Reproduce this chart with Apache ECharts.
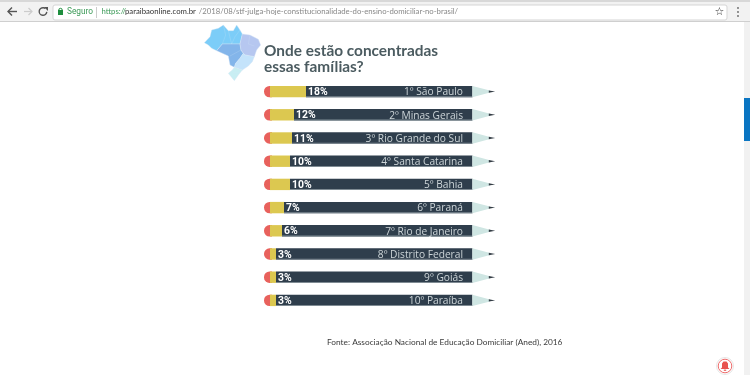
<!DOCTYPE html>
<html><head><meta charset="utf-8">
<style>html,body{margin:0;padding:0;background:#fff;overflow:hidden}#c{width:750px;height:375px;filter:blur(0.45px)}</style>
<script src="https://cdn.jsdelivr.net/npm/echarts@6/dist/echarts.min.js"></script>
</head><body><div id="c"></div>
<script>
const categories = ['1º São Paulo','2º Minas Gerais','3º Rio Grande do Sul','4º Santa Catarina','5º Bahia','6º Paraná','7º Rio de Janeiro','8º Distrito Federal','9º Goiás','10º Paraíba'];
const shares = [18,12,11,10,10,7,6,3,3,3];
const title = ['Onde estão concentradas','essas famílias?'];
const source = 'Fonte: Associação Nacional de Educação Domiciliar (Aned), 2016';
const url1 = 'https://', url2 = 'paraibaonline.com.br', url3 = '/2018/08/stf-julga-hoje-constitucionalidade-do-ensino-domiciliar-no-brasil/';

const m = pts => pts.map(p => [195 + p[0] / 3, 20 + p[1] / 3]);
const regions = [
  ['#7ccdf8', [[28,68],[45,50],[50,30],[70,25],[85,15],[100,32],[115,32],[125,15],[135,30],[142,42],[135,72],[82,72],[65,92],[50,85],[40,75]]],
  ['#83b5ea', [[82,72],[135,72],[138,90],[145,100],[135,115],[122,130],[118,142],[105,135],[100,108],[65,92]]],
  ['#b6c7f0', [[142,42],[165,45],[190,58],[197,75],[185,90],[178,110],[150,105],[145,100],[138,90],[135,72]]],
  ['#c4e3fb', [[145,100],[150,105],[178,110],[172,125],[160,138],[142,150],[118,142],[122,130],[135,115]]],
  ['#c8eef3', [[118,142],[142,150],[130,165],[118,182],[100,160],[112,150]]]
];
const stateLines = [
  [[85,15],[92,45],[82,72]], [[100,32],[110,72]], [[135,30],[120,50],[110,72]],
  [[165,45],[160,72],[178,78]], [[105,108],[138,90]], [[112,158],[136,158]]
];
const chrome = [
  {type:'rect',shape:{x:0,y:0,width:750,height:21},style:{fill:'#f2f2f2'}},
  {type:'rect',shape:{x:0,y:0,width:750,height:2},style:{fill:'#d8d8d8'}},
  {type:'rect',shape:{x:0,y:21,width:750,height:1},style:{fill:'#cfcfcf'}},
  {type:'rect',shape:{x:53,y:5,width:674,height:15,r:2},style:{fill:'#fff',stroke:'#d5d5d5',lineWidth:1}},
  {type:'polyline',shape:{points:[[17,11.5],[8,11.5]]},style:{stroke:'#555',lineWidth:1.4,fill:'none'}},
  {type:'polyline',shape:{points:[[12,7.5],[8,11.5],[12,15.5]]},style:{stroke:'#555',lineWidth:1.4,fill:'none'}},
  {type:'polyline',shape:{points:[[24,11.5],[32,11.5]]},style:{stroke:'#ccc',lineWidth:1.2,fill:'none'}},
  {type:'polyline',shape:{points:[[28.5,8],[32,11.5],[28.5,15]]},style:{stroke:'#ccc',lineWidth:1.2,fill:'none'}},
  {type:'arc',shape:{cx:43,cy:11.5,r:3.8,startAngle:0.1,endAngle:5.4},style:{stroke:'#555',lineWidth:1.4,fill:'none'}},
  {type:'polygon',shape:{points:[[44,7],[48,7],[48,11]]},style:{fill:'#555'}},
  {type:'rect',shape:{x:58,y:10,width:5,height:5},style:{fill:'#1e8e3e'}},
  {type:'arc',shape:{cx:60.5,cy:10,r:1.7,startAngle:Math.PI,endAngle:0},style:{stroke:'#1e8e3e',lineWidth:1,fill:'none'}},
  {type:'text',x:67,y:7.5,style:{text:'Seguro',font:'8.3px Roboto',fill:'#3c9a58'}},
  {type:'rect',shape:{x:96,y:7,width:1,height:11},style:{fill:'#ccc'}},
  {type:'text',x:101.5,y:7.5,style:{text:url1,font:'7.75px Lato',fill:'#3c9a58'}},
  {type:'text',x:125,y:7.5,style:{text:url2,font:'7.75px Lato',fill:'#333'}},
  {type:'text',x:198.7,y:7.5,style:{text:url3,font:'7.75px Lato',fill:'#888'}},
  {type:'text',x:714.5,y:6.5,style:{text:'☆',font:'700 11px "DejaVu Sans"',fill:'#333'}},
  {type:'circle',shape:{cx:738,cy:8,r:0.9},style:{fill:'#666'}},
  {type:'circle',shape:{cx:738,cy:12,r:0.9},style:{fill:'#666'}},
  {type:'circle',shape:{cx:738,cy:16,r:0.9},style:{fill:'#666'}},
  {type:'rect',shape:{x:744,y:22,width:6,height:353},style:{fill:'#f1f1f1'}},
  {type:'rect',shape:{x:744,y:98,width:6,height:43},style:{fill:'#0a75c2'}},
  {type:'circle',shape:{cx:725,cy:366,r:8.5},style:{fill:'#fff',stroke:'#e6e6e6',lineWidth:1}},
  {type:'circle',shape:{cx:725,cy:366,r:6.8},style:{fill:'#fff',stroke:'#ee6c6c',lineWidth:1}},
  {type:'polygon',shape:{points:[[720.5,369],[722,367.5],[722,363.5],[723.5,361.5],[726.5,361.5],[728,363.5],[728,367.5],[729.5,369]]},style:{fill:'#e8524f'}},
  {type:'rect',shape:{x:723.8,y:369.6,width:2.4,height:1.2},style:{fill:'#e8524f'}}
];
const mapShapes = regions.map(r => ({type:'polygon',shape:{points:m(r[1])},style:{fill:r[0],stroke:'#d6e6f6',lineWidth:0.4}}))
  .concat(stateLines.map(l => ({type:'polyline',shape:{points:m(l)},style:{stroke:'#d6e6f6',lineWidth:0.3,opacity:0.7,fill:'none'}})));
const texts = [
  {type:'text',x:264,y:44,style:{text:title[0],font:'700 15.4px Lato',fill:'#4b5b60'}},
  {type:'text',x:264,y:60,style:{text:title[1],font:'700 15.4px Lato',fill:'#4b5b60'}},
  {type:'text',x:327,y:338.5,style:{text:source,font:'8.3px Lato',fill:'#3a3a3a'}}
];

function pencil(params, api){
  const v = api.value(0), cat = api.value(1);
  const c = v2 => api.coord([v2, cat]);
  const mid = c(0)[1], h = 11.4;
  const top = mid - h/2;
  const x0 = c(-3)[0], xZero = c(0)[0], xV = c(v)[0], xEnd = c(101.2)[0], xTip = c(110)[0], xLead = c(112.6)[0], xLeadStart = c(109.4)[0];
  return {type:'group',children:[
    {type:'rect',shape:{x:x0,y:top,width:xZero-x0+2,height:h,r:[5.5,0,0,5.5]},style:{fill:'#e8615c'}},
    {type:'rect',shape:{x:xZero,y:top,width:xV-xZero,height:h},style:{fill:'#dcc850'}},
    {type:'rect',shape:{x:xV,y:top,width:xEnd-xV,height:h},style:{fill:'#2f3e4c'}},
    {type:'rect',shape:{x:xV,y:top+h-1,width:xEnd-xV,height:1},style:{fill:'#7f8b93'}},
    {type:'polygon',shape:{points:[[xEnd,top],[xTip,mid-1],[xTip,mid+1],[xEnd,top+h]]},style:{fill:'#cfe6e3'}},
    {type:'polygon',shape:{points:[[xLeadStart,mid-1.2],[xLead,mid],[xLeadStart,mid+1.2]]},style:{fill:'#333c44'}},
    {type:'text',x:xV+2,y:mid+1,style:{text:v+'%',font:'700 10.4px Roboto',fill:'#fff',verticalAlign:'middle',align:'left'}},
    {type:'text',x:c(96.5)[0],y:mid+1,style:{text:categories[cat],font:'10.2px "Open Sans"',fill:'#cdd5d8',verticalAlign:'middle',align:'right'}}
  ]};
}

const chart = echarts.init(document.getElementById('c'),null,{renderer:'canvas'});
chart.setOption({
  animation:false,
  backgroundColor:'#fff',
  grid:{left:264,width:232,top:80,height:232},
  xAxis:{type:'value',min:-3,max:113,show:false},
  yAxis:{type:'category',data:categories,inverse:true,show:false},
  graphic:{elements:[...chrome,...mapShapes,...texts]},
  series:[{type:'custom',renderItem:pencil,encode:{x:0,y:1},clip:false,
    data:shares.map((s,i)=>[s,i])}]
});
</script></body></html>
